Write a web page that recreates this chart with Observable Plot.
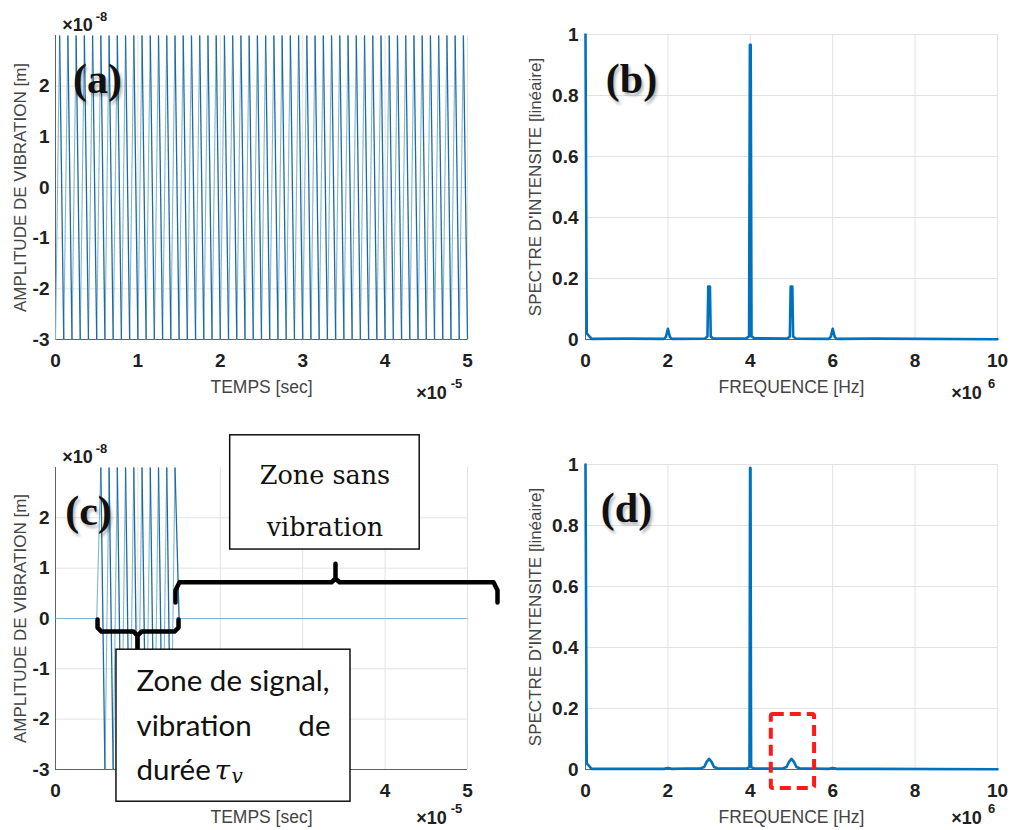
<!DOCTYPE html>
<html><head><meta charset="utf-8">
<script src="https://cdn.jsdelivr.net/npm/d3@7"></script>
<script src="https://cdn.jsdelivr.net/npm/@observablehq/plot@0.6"></script>
<style>
body{margin:0;background:#fff;}
#fig{position:relative;width:1011px;height:830px;overflow:hidden;background:#fff;}
#fig svg{position:absolute;overflow:visible;}
#fig g[aria-label$="tick label"] text{font-weight:bold;font-size:19px;}
</style></head><body><div id="fig"></div>
<script>
// ---------- DATA ----------
// (a) continuous vibration: time (x1e-5 s) and amplitude (x1e-8 m) of visible extrema
const aT = [0,0.05,0.1,0.15,0.2,0.25,0.3,0.35,0.4,0.45,
  0.5,0.55,0.6,0.65,0.7,0.75,0.8,0.85,0.9,0.95,
  1,1.05,1.1,1.15,1.2,1.25,1.3,1.35,1.4,1.45,
  1.5,1.55,1.6,1.65,1.7,1.75,1.8,1.85,1.9,1.95,
  2,2.05,2.1,2.15,2.2,2.25,2.3,2.35,2.4,2.45,
  2.5,2.55,2.6,2.65,2.7,2.75,2.8,2.85,2.9,2.95,
  3,3.05,3.1,3.15,3.2,3.25,3.3,3.35,3.4,3.45,
  3.5,3.55,3.6,3.65,3.7,3.75,3.8,3.85,3.9,3.95,
  4,4.05,4.1,4.15,4.2,4.25,4.3,4.35,4.4,4.45,
  4.5,4.55,4.6,4.65,4.7,4.75,4.8,4.85,4.9,4.95,
  5];
const aV = [-3,3,-3,3,-3,3,-3,3,-3,3,
  -3,3,-3,3,-3,3,-3,3,-3,3,
  -3,3,-3,3,-3,3,-3,3,-3,3,
  -3,3,-3,3,-3,3,-3,3,-3,3,
  -3,3,-3,3,-3,3,-3,3,-3,3,
  -3,3,-3,3,-3,3,-3,3,-3,3,
  -3,3,-3,3,-3,3,-3,3,-3,3,
  -3,3,-3,3,-3,3,-3,3,-3,3,
  -3,3,-3,3,-3,3,-3,3,-3,3,
  -3,3,-3,3,-3,3,-3,3,-3,3,
  -3];
// (b) spectrum of continuous vibration: frequency (x1e6 Hz), linear intensity
const fB = [0,0.03,0.15,1.0,1.9,1.95,2.0,2.05,2.1,2.9,2.96,2.98,3.02,3.04,3.1,3.9,3.97,3.99,4.01,4.03,4.1,4.9,4.96,4.98,5.02,5.04,5.1,5.9,5.95,6.0,6.05,6.1,7.0,10];
const sB = [1,0.02,0.002,0.003,0.002,0.008,0.035,0.008,0.002,0.003,0.01,0.174,0.174,0.01,0.003,0.004,0.01,0.966,0.966,0.01,0.004,0.003,0.01,0.174,0.174,0.01,0.003,0.002,0.008,0.035,0.008,0.002,0.003,0.001];
// (c) burst vibration
const cT = [0,0.5,0.55,0.6,0.65,0.7,0.75,0.8,0.85,0.9,0.95,1,1.05,1.1,1.15,1.2,1.25,1.3,1.35,1.4,1.45,1.5,5];
const cV = [0,0,3,-3,3,-3,3,-3,3,-3,3,-3,3,-3,3,-3,3,-3,3,-3,3,0,0];
// (d) spectrum of burst vibration
const fD = [0,0.03,0.15,1.0,1.9,2.0,2.1,2.8,2.88,2.94,3.0,3.06,3.12,3.2,3.9,3.98,3.995,4.005,4.02,4.1,4.8,4.88,4.94,5.0,5.06,5.12,5.2,5.9,6.0,6.1,7.0,10];
const sD = [1,0.02,0.002,0.002,0.002,0.005,0.002,0.004,0.008,0.025,0.035,0.025,0.008,0.004,0.003,0.008,0.988,0.988,0.008,0.003,0.004,0.008,0.025,0.035,0.025,0.008,0.004,0.002,0.005,0.002,0.002,0.001];
// tick values
const timeTicks = [0,1,2,3,4,5];
const timeTicksC = [0,4,5];          // 1, 2, 3 are hidden behind the annotation box in (c)
const ampTicks = [-3,-2,-1,0,1,2];
const freqTicks = [0,2,4,6,8,10];
const specTicks = [0,0.2,0.4,0.6,0.8,1];
// texts
const labels = {
  time: "TEMPS [sec]", amp: "AMPLITUDE DE VIBRATION [m]",
  freq: "FREQUENCE [Hz]", spec: "SPECTRE D'INTENSITE [linéaire]"
};

// ---------- STYLE ----------
const GRID = "#e2e2e2", AXIS = "#3a3a3a", TICK = "#202020", TITLE = "#444";
const BLUE = "#0072BD";
const SANS = "Liberation Sans, Arial, sans-serif";

function segs(T, V) {
  const pts = T.map((t, i) => ({t, v: V[i]}));
  return d3.pairs(pts).map(([p, q]) => ({t1: p.t, v1: p.v, t2: q.t, v2: q.v}));
}
function series(F, S) { return F.map((f, i) => ({f, s: S[i]})); }

function panel(cfg) {
  const M = "middle";
  const marks = [
    Plot.gridX({ticks: cfg.xGrid, stroke: GRID, strokeOpacity: 1}),
    Plot.gridY({ticks: cfg.yGrid, stroke: GRID, strokeOpacity: 1}),
    Plot.ruleX([cfg.xDomain[0]], {stroke: AXIS, strokeWidth: 0.8}),
    Plot.ruleY([cfg.yDomain[0]], {stroke: AXIS, strokeWidth: 0.8}),
    Plot.axisX({ticks: cfg.xTicks, tickSize: 0, tickPadding: 14, tickFormat: d => String(d),
      fontSize: 19, fontWeight: "bold", fill: TICK, label: null}),
    Plot.axisY({ticks: cfg.yTicks, tickSize: 0, tickPadding: cfg.yPad, tickFormat: d => String(d),
      fontSize: 19, fontWeight: "bold", fill: TICK, label: null}),
    ...cfg.marks,
    Plot.text([cfg.xLabel], {frameAnchor: "bottom", dy: 48, textAnchor: M, lineAnchor: M, fontSize: 17.5, fontWeight: "normal", fill: TITLE}),
    Plot.text([cfg.yLabel], {frameAnchor: "left", dx: cfg.yLabelDx, textAnchor: M, lineAnchor: M, rotate: -90, fontSize: 17, fontWeight: "normal", fill: TITLE}),
    Plot.text(["×10"], {frameAnchor: "bottom-right", dx: cfg.xExpDx, dy: cfg.xExpDy, textAnchor: M, lineAnchor: M, fontSize: 18, fontWeight: "bold", fill: TICK}),
    Plot.text([cfg.xExp], {frameAnchor: "bottom-right", dx: cfg.xExpDx + 25, dy: cfg.xExpDy - 10, textAnchor: M, lineAnchor: M, fontSize: 13, fontWeight: "bold", fill: TICK}),
    Plot.text([cfg.tag], {frameAnchor: "top-left", dx: cfg.tagDx, dy: cfg.tagDy, textAnchor: M, lineAnchor: M, fontSize: 42, fontWeight: "bold",
      fontFamily: "Liberation Serif, serif", fill: "#111"})
  ];
  if (cfg.yExp) {
    marks.push(
      Plot.text(["×10"], {frameAnchor: "top-left", dx: 22, dy: -10, textAnchor: M, lineAnchor: M, fontSize: 18, fontWeight: "bold", fill: TICK}),
      Plot.text([cfg.yExp], {frameAnchor: "top-left", dx: 46, dy: -19, textAnchor: M, lineAnchor: M, fontSize: 13, fontWeight: "bold", fill: TICK})
    );
  }
  const svg = Plot.plot({
    width: cfg.width, height: cfg.height,
    marginLeft: cfg.mL, marginRight: cfg.mR, marginTop: cfg.mT, marginBottom: cfg.mB,
    x: {domain: cfg.xDomain, label: null},
    y: {domain: cfg.yDomain, label: null},
    style: {fontFamily: SANS, fontSize: "18px", color: TICK,
      position: "absolute", left: cfg.left + "px", top: cfg.top + "px", overflow: "visible", background: "transparent"},
    marks
  });
  d3.select(svg).selectAll("text").filter(function() { return /^\([a-d]\)$/.test(this.textContent); })
    .style("text-shadow", "2px 3px 3px rgba(0,0,0,0.28)");
  document.getElementById("fig").appendChild(svg);
}

// (a)
const aSegs = segs(aT, aV);
panel({
  left: 0, top: 0, width: 505, height: 415, mL: 55, mR: 38, mT: 35, mB: 76,
  xDomain: [0, 5], yDomain: [-3, 3], xTicks: timeTicks, yTicks: ampTicks, yPad: 6,
  xGrid: [1,2,3,4,5], yGrid: [-2,-1,0,1,2],
  xLabel: labels.time, yLabel: labels.amp, yLabelDx: -35,
  xExp: "-5", xExpDx: -36, xExpDy: 54, yExp: "-8",
  tag: "(a)", tagDx: 42, tagDy: 44,
  marks: [
    Plot.link(aSegs.filter(s => s.v2 > s.v1), {x1: "t1", y1: "v1", x2: "t2", y2: "v2", stroke: "#7fb7d6", strokeWidth: 1.1}),
    Plot.link(aSegs.filter(s => s.v2 < s.v1), {x1: "t1", y1: "v1", x2: "t2", y2: "v2", stroke: "#1f6a9c", strokeWidth: 1.3})
  ]
});

// (b)
panel({
  left: 505, top: 0, width: 506, height: 415, mL: 80, mR: 14, mT: 34, mB: 76,
  xDomain: [0, 10], yDomain: [0, 1], xTicks: freqTicks, yTicks: specTicks, yPad: 7,
  xGrid: [2,4,6,8,10], yGrid: [0.2,0.4,0.6,0.8,1],
  xLabel: labels.freq, yLabel: labels.spec, yLabelDx: -50,
  xExp: "6", xExpDx: -31, xExpDy: 54, yExp: null,
  tag: "(b)", tagDx: 46, tagDy: 45,
  marks: [
    Plot.line(series(fB, sB), {x: "f", y: "s", stroke: BLUE, strokeWidth: 2.6})
  ]
});

// (c) with annotations (positions in data units of the panel)
const cSegs = segs(cT, cV);
const braceLow = {t: [0.51,0.51,0.558,0.947,0.995,0.995,0.995,1.044,1.444,1.493,1.493],
                  v: [-0.02,-0.18,-0.26,-0.26,-0.34,-0.60,-0.34,-0.26,-0.26,-0.18,-0.02]};
const braceHigh = {t: [1.456,1.456,1.505,3.35,3.398,3.398,3.398,3.447,5.316,5.364,5.364],
                   v: [0.32,0.56,0.72,0.72,0.79,1.09,0.79,0.72,0.72,0.56,0.32]};
const toPts = b => b.t.map((t, i) => ({t, v: b.v[i]}));
const SERIF = "DejaVu Serif, serif", BODY = "Lato, sans-serif";
panel({
  left: 0, top: 415, width: 505, height: 415, mL: 55, mR: 38, mT: 52, mB: 61,
  xDomain: [0, 5], yDomain: [-3, 3], xTicks: timeTicksC, yTicks: ampTicks, yPad: 6,
  xGrid: [1,2,3,4,5], yGrid: [-2,-1,0,1,2],
  xLabel: labels.time, yLabel: labels.amp, yLabelDx: -35,
  xExp: "-5", xExpDx: -36, xExpDy: 49, yExp: "-8",
  tag: "(c)", tagDx: 33, tagDy: 44,
  marks: [
    Plot.link(cSegs.filter(s => s.v2 >= s.v1), {x1: "t1", y1: "v1", x2: "t2", y2: "v2", stroke: "#7fb7d6", strokeWidth: 1.1}),
    Plot.link(cSegs.filter(s => s.v2 < s.v1), {x1: "t1", y1: "v1", x2: "t2", y2: "v2", stroke: "#1f6a9c", strokeWidth: 1.3}),
    Plot.line(toPts(braceLow), {x: "t", y: "v", stroke: "#000", strokeWidth: 4.5, strokeLinejoin: "round", strokeLinecap: "round"}),
    Plot.line(toPts(braceHigh), {x: "t", y: "v", stroke: "#000", strokeWidth: 4.5, strokeLinejoin: "round", strokeLinecap: "round"}),
    Plot.rect([{x1: 2.12, x2: 4.42, y1: 1.37, y2: 3.64}], {x1: "x1", x2: "x2", y1: "y1", y2: "y2", fill: "#fff", stroke: "#111", strokeWidth: 1.5}),
    Plot.rect([{x1: 0.74, x2: 3.58, y1: -3.64, y2: -0.62}], {x1: "x1", x2: "x2", y1: "y1", y2: "y2", fill: "#fff", stroke: "#111", strokeWidth: 1.5}),
    Plot.text(["Zone sans"], {x: () => 3.27, y: () => 2.84, fontSize: 25.5, fontWeight: "normal", fontFamily: SERIF, fill: "#111"}),
    Plot.text(["vibration"], {x: () => 3.27, y: () => 1.81, fontSize: 25.5, fontWeight: "normal", fontFamily: SERIF, fill: "#111"}),
    Plot.text(["Zone de signal,"], {x: () => 0.983, y: () => -1.25, textAnchor: "start", fontSize: 29.5, fontWeight: "normal", fontFamily: BODY, fill: "#111"}),
    Plot.text(["vibration"], {x: () => 0.983, y: () => -2.15, textAnchor: "start", fontSize: 29.5, fontWeight: "normal", fontFamily: BODY, fill: "#111"}),
    Plot.text(["de"], {x: () => 3.337, y: () => -2.15, textAnchor: "end", fontSize: 29.5, fontWeight: "normal", fontFamily: BODY, fill: "#111"}),
    Plot.text(["durée"], {x: () => 0.983, y: () => -3.03, textAnchor: "start", fontSize: 29.5, fontWeight: "normal", fontFamily: BODY, fill: "#111"}),
    Plot.text(["τ"], {x: () => 1.93, y: () => -3.03, textAnchor: "start", fontSize: 28, fontStyle: "italic", fontWeight: "normal", fontFamily: SERIF, fill: "#111"}),
    Plot.text(["v"], {x: () => 2.135, y: () => -3.15, textAnchor: "start", fontSize: 20, fontStyle: "italic", fontWeight: "normal", fontFamily: SERIF, fill: "#111"})
  ]
});

// (d)
panel({
  left: 505, top: 415, width: 506, height: 415, mL: 80, mR: 14, mT: 49, mB: 61,
  xDomain: [0, 10], yDomain: [0, 1], xTicks: freqTicks, yTicks: specTicks, yPad: 7,
  xGrid: [2,4,6,8,10], yGrid: [0.2,0.4,0.6,0.8,1],
  xLabel: labels.freq, yLabel: labels.spec, yLabelDx: -50,
  xExp: "6", xExpDx: -31, xExpDy: 49, yExp: null,
  tag: "(d)", tagDx: 41, tagDy: 44,
  marks: [
    Plot.line(series(fD, sD), {x: "f", y: "s", stroke: BLUE, strokeWidth: 2.6}),
    Plot.rect([{x1: 4.51, x2: 5.56, y1: -0.062, y2: 0.18}], {x1: "x1", x2: "x2", y1: "y1", y2: "y2", fill: "none",
      stroke: "#ff1a1a", strokeWidth: 4, strokeDasharray: "11,6", rx: 2})
  ]
});
</script></body></html>
